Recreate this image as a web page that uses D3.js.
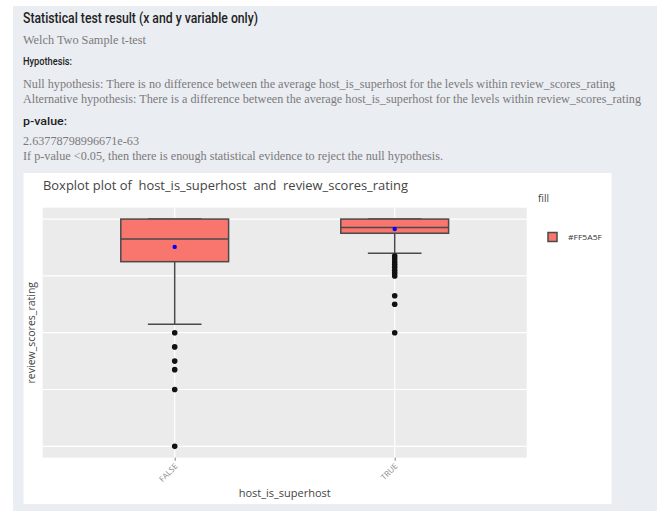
<!DOCTYPE html>
<html>
<head>
<meta charset="utf-8">
<script src="https://cdn.jsdelivr.net/npm/d3@7"></script>
<style>
  html, body { margin: 0; padding: 0; background: #ffffff; }
  svg { display: block; }
  text { white-space: pre; }
</style>
</head>
<body>
<div id="chart"></div>
<script>
// ---- data -----------------------------------------------------------
const categories = ["FALSE", "TRUE"];
const lowerWhisker = [63, 88];
const q1 = [85, 95];
const medians = [93, 97];
const q3 = [100, 100];
const upperWhisker = [100, 100];
const means = [90.2, 96.5];
const outliersFalse = [60, 55, 50, 47, 40, 20];
const outliersTrue = [87, 86, 85, 84, 83, 82, 81, 80, 73, 70, 60];
const yGridValues = [20, 40, 60, 80, 100];
const legendLabels = ["#FF5A5F"];

const pValue = "2.63778798996671e-63";
const xVar = "host_is_superhost";
const yVar = "review_scores_rating";

// ---- page ----------------------------------------------------------
const W = 657, H = 511;
const svg = d3.select("#chart").append("svg")
  .attr("width", W).attr("height", H);

// result panel background
svg.append("rect").attr("x", 13).attr("y", 6)
  .attr("width", W - 13).attr("height", H - 6)
  .attr("fill", "#eaedf2");

const serif = "'Liberation Serif', 'DejaVu Serif', serif";
const cond = "Roboto, 'Liberation Sans', sans-serif";

function txt(x, y, s, opts) {
  const t = svg.append("text").attr("x", x).attr("y", y).text(s)
    .attr("font-family", opts.family).attr("font-size", opts.size)
    .attr("fill", opts.fill).attr("font-weight", opts.weight || 400);
  if (opts.len) t.attr("textLength", opts.len).attr("lengthAdjust", "spacingAndGlyphs");
  return t;
}

txt(23, 23, "Statistical test result (x and y variable only)",
  { family: cond, size: 14, fill: "#1f1f1f", weight: 500, len: 235 });
txt(23, 44, "Welch Two Sample t-test",
  { family: serif, size: 11.5, fill: "#7a7a7a", len: 123 });
txt(23, 65, "Hypothesis:",
  { family: cond, size: 11, fill: "#1f1f1f", weight: 500, len: 49 });
txt(23, 88, `Null hypothesis: There is no difference between the average ${xVar} for the levels within ${yVar}`,
  { family: serif, size: 11.5, fill: "#7a7a7a", len: 592 });
txt(23, 103, `Alternative hypothesis: There is a difference between the average ${xVar} for the levels within ${yVar}`,
  { family: serif, size: 11.5, fill: "#7a7a7a", len: 618 });
txt(23, 125, "p-value:",
  { family: cond, size: 11, fill: "#1f1f1f", weight: 500, len: 44 });
txt(23, 145, pValue,
  { family: serif, size: 11.5, fill: "#7a7a7a", len: 116 });
txt(23, 160, "If p-value <0.05, then there is enough statistical evidence to reject the null hypothesis.",
  { family: serif, size: 11.5, fill: "#7a7a7a", len: 420 });

// ---- chart card ------------------------------------------------------
svg.append("rect").attr("x", 23.5).attr("y", 173)
  .attr("width", 588).attr("height", 331).attr("fill", "#ffffff");

const panel = { left: 42.7, right: 526.7, top: 207.7, bottom: 457.7 };

const x = d3.scaleLinear().domain([0.4, 2.6]).range([panel.left, panel.right]);
const y = d3.scaleLinear().domain([16, 104]).range([panel.bottom, panel.top]);

svg.append("text").attr("x", 43).attr("y", 190)
  .text(`Boxplot plot of  ${xVar}  and  ${yVar}`)
  .attr("font-family", "'Open Sans', sans-serif").attr("font-size", 13.5)
  .attr("textLength", 365).attr("lengthAdjust", "spacingAndGlyphs")
  .attr("fill", "#444444");

const g = svg.append("g");
g.append("rect").attr("x", panel.left).attr("y", panel.top)
  .attr("width", panel.right - panel.left).attr("height", panel.bottom - panel.top)
  .attr("fill", "#ebebeb");

// grid
g.selectAll("line.hgrid").data(yGridValues).join("line")
  .attr("class", "hgrid")
  .attr("x1", panel.left).attr("x2", panel.right)
  .attr("y1", d => y(d)).attr("y2", d => y(d))
  .attr("stroke", "#ffffff").attr("stroke-width", 1.2);
g.selectAll("line.vgrid").data(categories).join("line")
  .attr("class", "vgrid")
  .attr("x1", (d, i) => x(i + 1)).attr("x2", (d, i) => x(i + 1))
  .attr("y1", panel.top).attr("y2", panel.bottom)
  .attr("stroke", "#ffffff").attr("stroke-width", 1.2);

// x axis (ticks + rotated labels)
const xAxis = d3.axisBottom(x).tickValues([1, 2])
  .tickFormat(d => categories[d - 1]).tickSize(3).tickPadding(3);
const ax = svg.append("g").attr("transform", `translate(0,${panel.bottom})`).call(xAxis);
ax.select(".domain").remove();
ax.selectAll(".tick line").attr("stroke", "#7f7f7f");
ax.selectAll(".tick text")
  .attr("font-family", "'Open Sans', sans-serif").attr("font-size", 8)
  .attr("fill", "#8a8a8a")
  .attr("text-anchor", "end")
  .attr("dy", null).attr("y", 0)
  .attr("transform", "translate(3,9) rotate(-45)");

// axis titles
svg.append("text").attr("x", (panel.left + panel.right) / 2).attr("y", 497)
  .attr("text-anchor", "middle").text(xVar)
  .attr("font-family", "'Open Sans', sans-serif").attr("font-size", 11)
  .attr("fill", "#444444");
svg.append("text")
  .attr("transform", `translate(35,${(panel.top + panel.bottom) / 2}) rotate(-90)`)
  .attr("text-anchor", "middle").text(yVar)
  .attr("font-family", "'Open Sans', sans-serif").attr("font-size", 10.5)
  .attr("fill", "#444444");

// boxes
const boxHalf = 0.245, capHalf = 0.122;
const stroke = "#4a4a4a";
const boxes = categories.map((c, i) => ({
  i, lo: lowerWhisker[i], q1: q1[i], med: medians[i], q3: q3[i],
  hi: upperWhisker[i], mean: means[i]
}));

const bg = g.selectAll("g.box").data(boxes).join("g").attr("class", "box");
// whiskers
bg.append("line")
  .attr("x1", d => x(d.i + 1)).attr("x2", d => x(d.i + 1))
  .attr("y1", d => y(d.q1)).attr("y2", d => y(d.lo))
  .attr("stroke", stroke).attr("stroke-width", 1.5);
bg.append("line")
  .attr("x1", d => x(d.i + 1)).attr("x2", d => x(d.i + 1))
  .attr("y1", d => y(d.q3)).attr("y2", d => y(d.hi))
  .attr("stroke", stroke).attr("stroke-width", 1.5);
bg.append("line")
  .attr("x1", d => x(d.i + 1 - capHalf)).attr("x2", d => x(d.i + 1 + capHalf))
  .attr("y1", d => y(d.lo)).attr("y2", d => y(d.lo))
  .attr("stroke", stroke).attr("stroke-width", 1.5);
bg.append("line")
  .attr("x1", d => x(d.i + 1 - capHalf)).attr("x2", d => x(d.i + 1 + capHalf))
  .attr("y1", d => y(d.hi)).attr("y2", d => y(d.hi))
  .attr("stroke", stroke).attr("stroke-width", 1.5);
// box body
bg.append("rect")
  .attr("x", d => x(d.i + 1 - boxHalf))
  .attr("width", d => x(d.i + 1 + boxHalf) - x(d.i + 1 - boxHalf))
  .attr("y", d => y(d.q3))
  .attr("height", d => y(d.q1) - y(d.q3))
  .attr("fill", "#f8766d").attr("stroke", stroke).attr("stroke-width", 1.5);
// median
bg.append("line")
  .attr("x1", d => x(d.i + 1 - boxHalf)).attr("x2", d => x(d.i + 1 + boxHalf))
  .attr("y1", d => y(d.med)).attr("y2", d => y(d.med))
  .attr("stroke", stroke).attr("stroke-width", 1.5);
// mean marker
bg.append("circle")
  .attr("cx", d => x(d.i + 1)).attr("cy", d => y(d.mean))
  .attr("r", 2.2).attr("fill", "#0000ff");

// outliers
const outlierPts = [
  ...outliersFalse.map(v => ({ i: 0, v })),
  ...outliersTrue.map(v => ({ i: 1, v }))
];
g.selectAll("circle.out").data(outlierPts).join("circle")
  .attr("class", "out")
  .attr("cx", d => x(d.i + 1)).attr("cy", d => y(d.v))
  .attr("r", 2.8).attr("fill", "#111111");

// legend
svg.append("text").attr("x", 538).attr("y", 202).text("fill")
  .attr("font-family", "'Open Sans', sans-serif").attr("font-size", 10)
  .attr("fill", "#444444");
const lg = svg.selectAll("g.leg").data(legendLabels).join("g").attr("class", "leg");
lg.append("rect").attr("x", 548).attr("y", (d, i) => 232.5 + i * 18)
  .attr("width", 9).attr("height", 9)
  .attr("fill", "#f8766d").attr("stroke", stroke).attr("stroke-width", 1.5);
lg.append("text").attr("x", 568).attr("y", (d, i) => 240 + i * 18).text(d => d)
  .attr("font-family", "'Open Sans', sans-serif").attr("font-size", 8)
  .attr("textLength", 34).attr("lengthAdjust", "spacingAndGlyphs")
  .attr("fill", "#333333");
</script>
</body>
</html>
